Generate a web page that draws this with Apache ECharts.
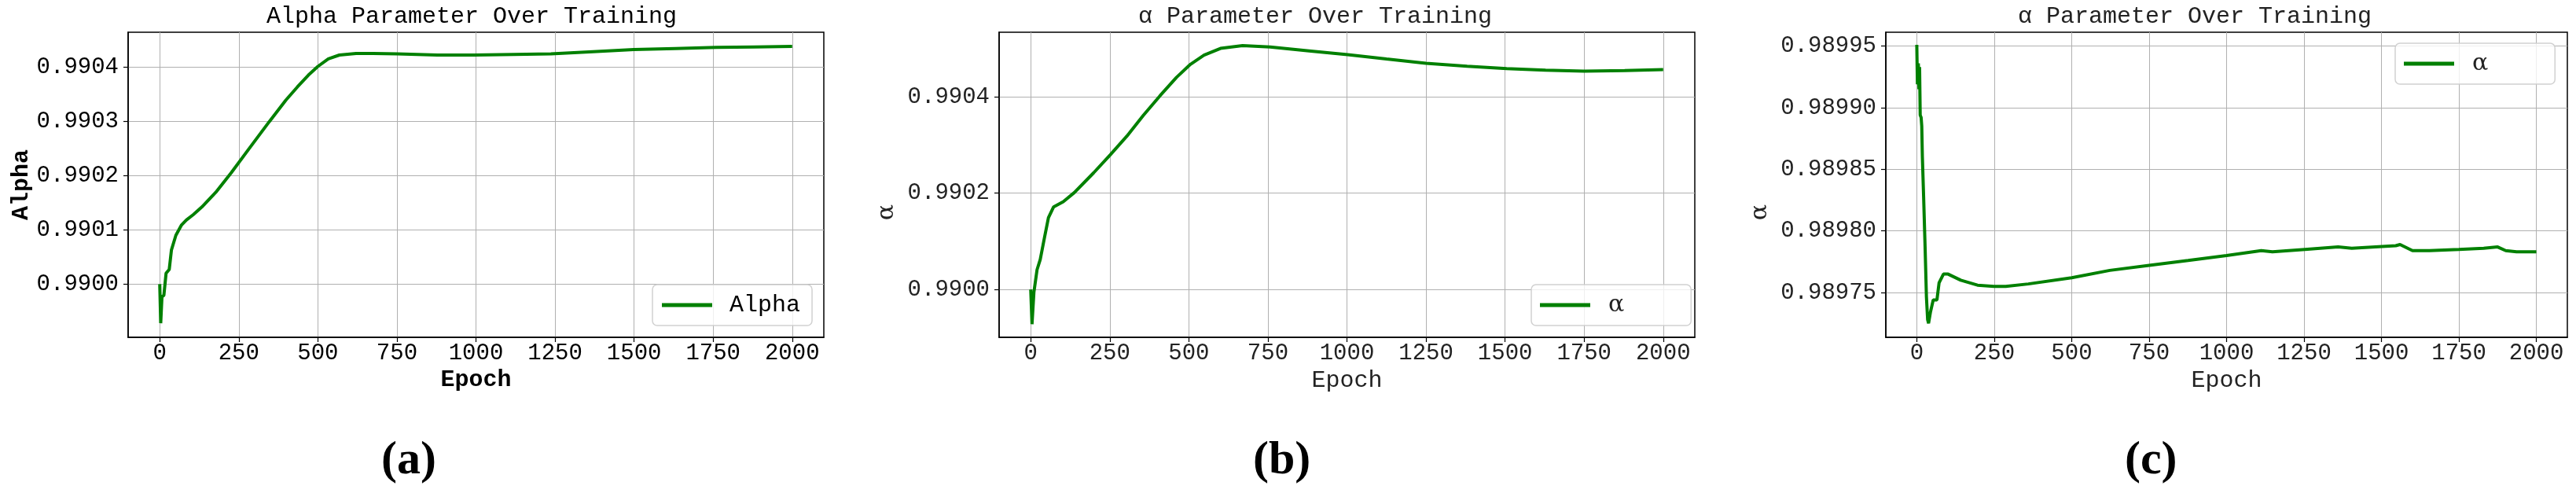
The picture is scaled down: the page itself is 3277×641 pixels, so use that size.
<!DOCTYPE html>
<html>
<head>
<meta charset="utf-8">
<script src="https://cdn.jsdelivr.net/npm/echarts@6/dist/echarts.min.js"></script>
<style>
  html, body { margin: 0; padding: 0; background: #fff; }
  #chart { width: 3277px; height: 641px; }
</style>
</head>
<body>
<div id="chart"></div>
<script>
// panel (a): Alpha
const epochsA = [0, 3, 7, 13, 20, 30, 37, 51, 69, 84, 106, 133, 177, 226, 287, 346, 399, 435, 470, 500, 533, 568, 621, 674, 750, 878, 993, 1120, 1237, 1370, 1499, 1630, 1760, 1880, 2000]
const alphaA = [0.990000, 0.989928, 0.989977, 0.989979, 0.990020, 0.990027, 0.990063, 0.990090, 0.990109, 0.990118, 0.990128, 0.990142, 0.990169, 0.990205, 0.990253, 0.990299, 0.990339, 0.990363, 0.990385, 0.990401, 0.990415, 0.990422, 0.990425, 0.990425, 0.990424, 0.990422, 0.990422, 0.990423, 0.990424, 0.990428, 0.990432, 0.990434, 0.990436, 0.990437, 0.990438]

// panel (b)
const epochsB = [0, 4, 10, 20, 30, 43, 56, 72, 103, 138, 199, 251, 304, 356, 409, 461, 505, 548, 600, 670, 757, 880, 1002, 1125, 1250, 1380, 1505, 1628, 1750, 1878, 2000]
const alphaB = [0.990000, 0.989928, 0.989994, 0.990041, 0.990062, 0.990106, 0.990149, 0.990171, 0.990182, 0.990201, 0.990242, 0.990279, 0.990318, 0.990361, 0.990402, 0.990440, 0.990467, 0.990486, 0.990500, 0.990506, 0.990503, 0.990495, 0.990487, 0.990478, 0.990469, 0.990463, 0.990458, 0.990455, 0.990453, 0.990454, 0.990456]

// panel (c)
const epochsC = [0, 2, 5, 7, 9, 11, 14, 16, 18, 22, 27, 31, 35, 38, 44, 53, 65, 72, 86, 101, 142, 196, 249, 287, 360, 500, 623, 750, 876, 1000, 1112, 1148, 1253, 1360, 1404, 1546, 1560, 1600, 1655, 1750, 1830, 1875, 1901, 1936, 2000]
const alphaC = [0.989951, 0.989919, 0.989936, 0.989915, 0.989933, 0.989894, 0.989892, 0.989885, 0.989860, 0.989828, 0.989785, 0.989747, 0.989728, 0.989725, 0.989734, 0.989744, 0.989744, 0.989758, 0.989765, 0.989765, 0.989760, 0.989756, 0.989755, 0.989755, 0.989757, 0.989762, 0.989768, 0.989772, 0.989776, 0.989780, 0.989784, 0.989783, 0.989785, 0.989787, 0.989786, 0.989788, 0.989789, 0.989784, 0.989784, 0.989785, 0.989786, 0.989787, 0.989784, 0.989783, 0.989783]

// tick labels
const epochTicks = [0, 250, 500, 750, 1000, 1250, 1500, 1750, 2000]
const yTicksA = [0.9900, 0.9901, 0.9902, 0.9903, 0.9904]
const yTicksB = [0.9900, 0.9902, 0.9904]
const yTicksC = [0.98975, 0.98980, 0.98985, 0.98990, 0.98995]

const mono = 'Liberation Mono'

const panels = [
  { // (a)
    left: 163, width: 885, yMin: 0.989902, yMax: 0.990464, yTicks: yTicksA, digits: 4,
    epochs: epochsA, values: alphaA, name: 'Alpha', yName: 'Alpha',
    title: 'Alpha Parameter Over Training', titleLeft: 339, color: '#000', nameWeight: 'bold',
    yNameGap: 118, yNamePad: [0, 0, 0, 0],
    legend: { left: 830, top: 362, padding: [10, 15, 10, 12], textPad: [0, 0, 0, 17], font: mono },
    sub: 'a', subLeft: 485
  },
  { // (b)
    left: 1271, width: 885, yMin: 0.9899007, yMax: 0.9905336, yTicks: yTicksB, digits: 4,
    epochs: epochsB, values: alphaB, name: 'α', yName: 'α',
    title: 'α Parameter Over Training', titleLeft: 1448, color: '#222', nameWeight: 'normal',
    yNameGap: 128, yNamePad: [0, 70, 0, 0],
    legend: { left: 1948, top: 362, padding: [10, 85, 10, 11], textPad: [0, 0, 0, 18], font: 'DejaVu Serif' },
    sub: 'b', subLeft: 1594
  },
  { // (c)
    left: 2399, width: 867, yMin: 0.9897137, yMax: 0.9899612, yTicks: yTicksC, digits: 5,
    epochs: epochsC, values: alphaC, name: 'α', yName: 'α',
    title: 'α Parameter Over Training', titleLeft: 2567, color: '#222', nameWeight: 'normal',
    yNameGap: 145, yNamePad: [0, 70, 0, 0],
    legend: { left: 3047, top: 55, padding: [10, 85, 10, 11], textPad: [0, 0, 0, 18], font: 'DejaVu Serif' },
    sub: 'c', subLeft: 2703
  }
]

const option = {
  animation: false,
  backgroundColor: '#fff',
  title: [],
  legend: [],
  grid: [],
  xAxis: [],
  yAxis: [],
  series: []
}

panels.forEach((p, i) => {
  option.grid.push({
    left: p.left, top: 41, width: p.width, height: 388,
    show: true, borderColor: '#000', borderWidth: 1.5, backgroundColor: 'transparent'
  })
  option.title.push({
    text: p.title, left: p.titleLeft, top: 6, padding: 0,
    textStyle: { fontFamily: mono, fontSize: 30, fontWeight: 'normal', color: p.color }
  })
  option.title.push({
    text: '{p|(}{l|' + p.sub + '}{p|)}', left: p.subLeft, top: 556, padding: 0,
    textStyle: {
      rich: {
        p: { fontFamily: 'Liberation Serif', fontSize: 60, color: '#000' },
        l: { fontFamily: 'Liberation Serif', fontSize: 60, fontWeight: 'bold', color: '#000' }
      }
    }
  })
  option.legend.push({
    data: [p.name], left: p.legend.left, top: p.legend.top, orient: 'vertical',
    padding: p.legend.padding, itemWidth: 64, itemHeight: 5, icon: 'rect',
    backgroundColor: 'rgba(255,255,255,0.8)', borderColor: 'rgba(204,204,204,0.9)', borderWidth: 1.5, borderRadius: 6,
    textStyle: { fontFamily: p.legend.font, fontSize: 30, lineHeight: 32, color: p.color, padding: p.legend.textPad },
    selectedMode: false
  })
  option.xAxis.push({
    type: 'value', gridIndex: i, min: -100, max: 2100,
    axisLine: { show: true, onZero: false, lineStyle: { color: '#000', width: 1.5 } },
    axisTick: { show: true, customValues: epochTicks, length: 6, lineStyle: { color: '#000', width: 1.2 } },
    axisLabel: {
      customValues: epochTicks, margin: 6, fontFamily: mono, fontSize: 29, color: p.color,
      formatter: v => String(v)
    },
    splitLine: { show: true, lineStyle: { color: '#b0b0b0', width: 1 } },
    name: 'Epoch', nameLocation: 'middle', nameGap: 37,
    nameTextStyle: { fontFamily: mono, fontSize: 30, fontWeight: p.nameWeight, color: p.color }
  })
  option.yAxis.push({
    type: 'value', gridIndex: i, min: p.yMin, max: p.yMax, scale: true,
    axisLine: { show: true, onZero: false, lineStyle: { color: '#000', width: 1.5 } },
    axisTick: { show: true, customValues: p.yTicks, length: 6, lineStyle: { color: '#000', width: 1.2 } },
    axisLabel: {
      customValues: p.yTicks, margin: 12, fontFamily: mono, fontSize: 29, color: p.color,
      formatter: v => v.toFixed(p.digits)
    },
    splitLine: { show: true, lineStyle: { color: '#b0b0b0', width: 1 } },
    name: p.yName, nameLocation: 'middle', nameRotate: 90, nameGap: p.yNameGap,
    nameTextStyle: { fontFamily: p.legend.font, fontSize: 30, fontWeight: p.nameWeight, color: p.color, padding: p.yNamePad }
  })
  option.series.push({
    name: p.name, type: 'line', xAxisIndex: i, yAxisIndex: i,
    data: p.epochs.map((e, k) => [e, p.values[k]]),
    showSymbol: false, symbol: 'none',
    lineStyle: { color: 'green', width: 4 },
    itemStyle: { color: 'green' }
  })
})

const chart = echarts.init(document.getElementById('chart'))
chart.setOption(option)
</script>
</body>
</html>
